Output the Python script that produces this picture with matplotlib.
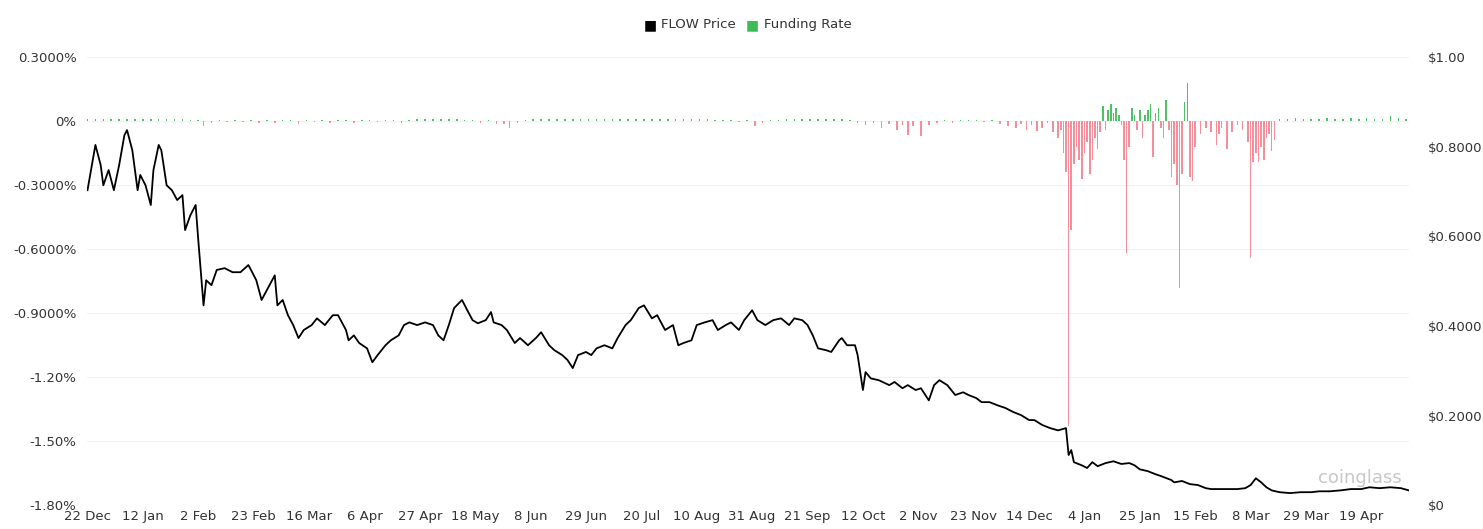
import matplotlib.pyplot as plt
import numpy as np

# days since 22 Dec 2023
price_days = [0, 1, 3, 5, 6, 8, 10, 12, 14, 15, 17, 19, 20, 22, 24, 25, 27, 28, 30, 32,
              34, 36, 37, 39, 41, 42, 44, 45, 47, 49, 52, 55, 58, 61, 62, 64, 66, 68, 71, 72,
              74, 76, 78, 80, 82, 85, 87, 90, 93, 95, 98, 99, 101, 103, 106, 108, 110, 113, 115, 118,
              120, 122, 125, 128, 131, 133, 135, 137, 139, 142, 144, 146, 148, 151, 153, 154, 157, 159, 162, 164,
              167, 170, 172, 175, 177, 180, 182, 184, 186, 189, 191, 193, 196, 199, 201, 204, 206, 209, 211, 214,
              216, 219, 222, 224, 226, 229, 231, 234, 237, 239, 242, 244, 247, 249, 252, 254, 257, 260, 263, 266,
              268, 271, 273, 275, 277, 280, 282, 285, 286, 288, 291, 292, 294, 295, 297, 300, 304, 306, 309, 311,
              314, 316, 319, 321, 323, 326, 329, 332, 334, 337, 339, 342, 345, 348, 351, 354, 357, 359, 362, 365,
              368, 371, 372, 373, 374, 377, 379, 381, 383, 386, 389, 392, 395, 397, 399, 402, 405, 407, 411, 412,
              415, 418, 421, 424, 426, 429, 433, 436, 439, 441, 443, 445, 447, 449, 452, 456, 460, 464, 467, 471,
              475, 479, 483, 486, 490, 494, 498, 501]
price = [0.703, 0.737, 0.804, 0.759, 0.714, 0.748, 0.703, 0.759, 0.826, 0.837, 0.792, 0.703, 0.737, 0.714, 0.670, 0.748, 0.804, 0.792, 0.714, 0.703,
         0.681, 0.692, 0.614, 0.647, 0.670, 0.592, 0.446, 0.502, 0.491, 0.525, 0.529, 0.520, 0.520, 0.536, 0.525, 0.502,
         0.458, 0.480, 0.513, 0.446, 0.458, 0.424, 0.402, 0.373, 0.391, 0.402, 0.417, 0.402, 0.424, 0.424,
         0.391, 0.368, 0.379, 0.362, 0.350, 0.319, 0.335, 0.357, 0.368, 0.379, 0.402, 0.408, 0.402, 0.408, 0.402, 0.379,
         0.368, 0.402, 0.440, 0.458, 0.435, 0.413, 0.406, 0.413, 0.431, 0.408, 0.402, 0.391, 0.362, 0.373,
         0.357, 0.373, 0.386, 0.357, 0.346, 0.335, 0.324, 0.306, 0.335, 0.342, 0.335, 0.350, 0.357, 0.350, 0.373, 0.402,
         0.413, 0.440, 0.446, 0.417, 0.424, 0.391, 0.402, 0.357, 0.362, 0.368, 0.402, 0.408, 0.413, 0.391, 0.402, 0.408,
         0.391, 0.413, 0.435, 0.413, 0.402, 0.413, 0.417, 0.402, 0.417, 0.413, 0.402, 0.379, 0.350, 0.346, 0.342,
         0.368, 0.373, 0.357, 0.357, 0.335, 0.257, 0.297, 0.283, 0.279, 0.268, 0.275, 0.261, 0.268, 0.257, 0.261, 0.234,
         0.268, 0.279, 0.268, 0.246, 0.252, 0.246, 0.239, 0.230, 0.230, 0.223, 0.217, 0.208, 0.201, 0.190, 0.190, 0.179,
         0.172, 0.167, 0.172, 0.112, 0.123, 0.096, 0.089, 0.083, 0.096, 0.087, 0.094, 0.098, 0.092, 0.094, 0.089, 0.080,
         0.076, 0.069, 0.065, 0.056, 0.051, 0.054, 0.047, 0.045, 0.038, 0.036, 0.036, 0.036, 0.036, 0.038, 0.045, 0.060,
         0.051, 0.040, 0.033, 0.029, 0.027, 0.029, 0.029, 0.031, 0.031, 0.033, 0.036, 0.036, 0.040, 0.038, 0.040, 0.038, 0.033]

# funding rate, % per interval
fund_days = [0, 3, 6, 9, 12, 15, 18, 21, 24, 27, 30, 33, 36, 39, 42, 44, 47, 50, 53, 56,
             59, 62, 65, 68, 71, 74, 77, 80, 83, 86, 89, 92, 95, 98, 101, 104, 107, 110, 113, 116,
             119, 122, 125, 128, 131, 134, 137, 140, 143, 146, 149, 152, 155, 158, 160, 163, 166, 169, 172, 175,
             178, 181, 184, 187, 190, 193, 196, 199, 202, 205, 208, 211, 214, 217, 220, 223, 226, 229, 232, 235,
             238, 241, 244, 247, 250, 253, 256, 259, 262, 265, 268, 271, 274, 277, 280, 283, 286, 289, 292, 295,
             298, 301, 304, 307, 309, 311, 313, 316, 319, 322, 325, 328, 331, 334, 337, 340, 343, 346, 349, 352,
             354, 356, 358, 360, 362, 364, 366, 368, 369, 370, 371, 372, 373, 374, 375, 376, 377, 378, 379, 380,
             381, 382, 383, 384, 385, 386, 387, 388, 389, 390, 391, 392, 393, 394, 395, 396, 397, 398, 399, 400,
             401, 402, 403, 404, 405, 406, 407, 408, 409, 410, 411, 412, 413, 414, 415, 416, 417, 418, 419, 420,
             422, 424, 426, 428, 429, 430, 432, 434, 436, 438, 440, 441, 442, 443, 444, 445, 446, 447, 448, 449,
             450, 452, 455, 458, 461, 464, 467, 470, 473, 476, 479, 482, 485, 488, 491, 494, 497, 500]
fund = [0.010, 0.012, 0.010, 0.011, 0.010, 0.010, 0.012, 0.010, 0.010, 0.011, 0.010, 0.010, 0.008, 0.006, 0.004, -0.025, -0.010, 0.004, -0.005, 0.005,
        -0.006, 0.004, -0.008, 0.005, -0.010, 0.004, 0.005, -0.012, 0.004, -0.006, 0.005, -0.010, 0.004, 0.005, -0.008, 0.005, 0.004, -0.006, 0.005, 0.006,
        -0.008, 0.006, 0.008, 0.010, 0.010, 0.012, 0.010, 0.008, 0.006, 0.004, -0.008, 0.004, -0.012, -0.015, -0.030, -0.010, 0.006, 0.008, 0.010, 0.010,
        0.010, 0.012, 0.010, 0.010, 0.011, 0.010, 0.010, 0.012, 0.010, 0.010, 0.011, 0.010, 0.010, 0.012, 0.010, 0.010, 0.008, 0.010, 0.010, 0.008,
        0.006, 0.006, 0.004, -0.006, 0.004, -0.025, -0.008, 0.004, 0.006, 0.008, 0.010, 0.010, 0.012, 0.010, 0.010, 0.008, 0.010, 0.006, -0.010, -0.020,
        -0.008, -0.030, -0.015, -0.040, -0.020, -0.065, -0.025, -0.070, -0.020, -0.010, 0.004, -0.008, 0.005, 0.006, 0.004, -0.006, 0.005, -0.012, -0.025, -0.030,
        -0.015, -0.040, -0.020, -0.045, -0.030, -0.010, -0.050, -0.080, -0.040, -0.150, -0.240, -1.430, -0.510, -0.200, -0.120, -0.180, -0.270, -0.150, -0.100, -0.250,
        -0.180, -0.080, -0.130, -0.050, 0.070, -0.040, 0.050, 0.080, 0.040, 0.060, 0.030, -0.020, -0.180, -0.620, -0.120, 0.060, 0.030, -0.040, 0.050, -0.080,
        0.030, 0.050, 0.080, -0.170, 0.040, 0.060, -0.030, -0.080, 0.100, -0.040, -0.260, -0.200, -0.300, -0.780, -0.250, 0.090, 0.180, -0.260, -0.280, -0.120,
        -0.060, -0.030, -0.050, -0.110, -0.060, -0.030, -0.130, -0.050, -0.020, -0.040, -0.100, -0.640, -0.190, -0.150, -0.190, -0.120, -0.180, -0.080, -0.060, -0.140,
        -0.090, 0.010, 0.008, 0.015, 0.010, 0.012, 0.010, 0.015, 0.012, 0.010, 0.014, 0.012, 0.015, 0.012, 0.010, 0.022, 0.015, 0.012]

tick_days = [0, 21, 42, 63, 84, 105, 126, 147, 168, 189, 210, 231, 252, 273, 294, 315, 336, 357, 378, 399, 420, 441, 462, 483]
tick_labels = ["22 Dec", "12 Jan", "2 Feb", "23 Feb", "16 Mar", "6 Apr", "27 Apr", "18 May", "8 Jun", "29 Jun",
               "20 Jul", "10 Aug", "31 Aug", "21 Sep", "12 Oct", "2 Nov", "23 Nov", "14 Dec", "4 Jan", "25 Jan",
               "15 Feb", "8 Mar", "29 Mar", "19 Apr"]
left_ticks = [0.3, 0, -0.3, -0.6, -0.9, -1.2, -1.5, -1.8]
left_labels = ["0.3000%", "0%", "-0.3000%", "-0.6000%", "-0.9000%", "-1.20%", "-1.50%", "-1.80%"]
right_ticks = [0, 0.2, 0.4, 0.6, 0.8, 1.0]
right_labels = ["$0", "$0.2000", "$0.4000", "$0.6000", "$0.8000", "$1.00"]

GREEN = "#3dbb55"
RED = "#f4828f"
TXT = "#333333"

fig = plt.figure(figsize=(14.83, 5.29), dpi=100)
ax = fig.add_axes([0.059, 0.045, 0.891, 0.847])
ax2 = ax.twinx()

fund = np.array(fund)
colors = [GREEN if v >= 0 else RED for v in fund]
ax.bar(fund_days, fund, width=0.6, color=colors, linewidth=0, alpha=0.9)
ax.set_ylim(-1.8, 0.3)
ax.set_yticks(left_ticks)
ax.set_yticklabels(left_labels)
ax.grid(axis="y", color="#f2f2f2", linewidth=0.8)
ax.set_axisbelow(True)

ax2.plot(price_days, price, color="black", linewidth=1.3)
ax2.set_ylim(0, 1.0)
ax2.set_yticks(right_ticks)
ax2.set_yticklabels(right_labels)

ax.set_xlim(0, 501)
ax.set_xticks(tick_days)
ax.set_xticklabels(tick_labels)

for a in (ax, ax2):
    for s in a.spines.values():
        s.set_visible(False)
    a.tick_params(length=0, labelsize=9.5, colors=TXT)
ax.tick_params(axis="y", pad=8)
ax2.tick_params(axis="y", pad=14)

fig.text(0.945, 0.096, "coinglass", fontsize=13, color="#c8c8c8", ha="right", va="center")

# legend
fig.text(0.434, 0.953, "\u25a0", color="black", fontsize=10, va="center")
fig.text(0.446, 0.953, "FLOW Price", color=TXT, fontsize=9.5, va="center")
fig.text(0.503, 0.953, "\u25a0", color=GREEN, fontsize=10, va="center")
fig.text(0.515, 0.953, "Funding Rate", color=TXT, fontsize=9.5, va="center")

fig.savefig("out.png", dpi=100)
